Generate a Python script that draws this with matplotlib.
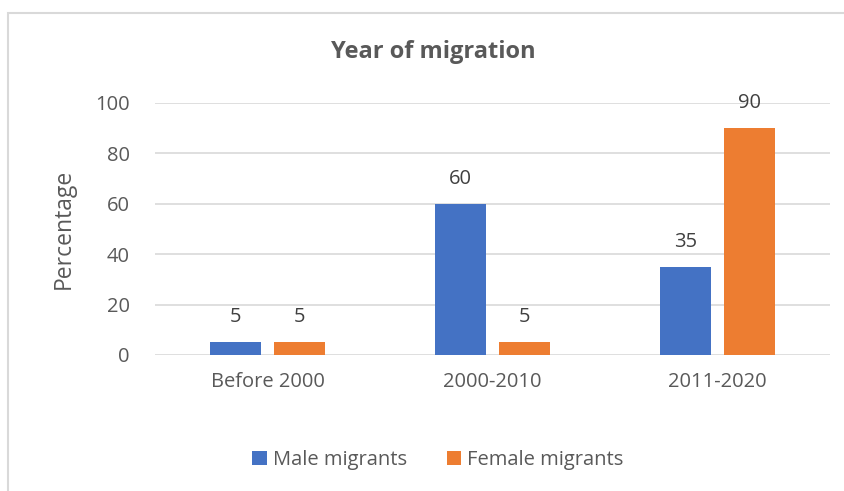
import matplotlib.pyplot as plt
import numpy as np
from matplotlib.patches import Rectangle

categories = ['Before 2000', '2000-2010', '2011-2020']
male = [5, 60, 35]
female = [5, 5, 90]
series_names = ['Male migrants', 'Female migrants']

plt.rcParams['font.family'] = ['Open Sans', 'DejaVu Sans']
grey = '#595959'

fig = plt.figure(figsize=(8.45, 4.91), dpi=100)
W, H = 845, 491
ax = fig.add_axes([155 / W, 1 - 355 / H, 675 / W, 252 / H])

x = np.arange(len(categories))
w = 0.227
off = 0.142
b1 = ax.bar(x - off, male, w, color='#4472c4', label=series_names[0], zorder=3)
b2 = ax.bar(x + off, female, w, color='#ed7d31', label=series_names[1], zorder=3)

for bars in (b1, b2):
    for r in bars:
        ax.text(r.get_x() + r.get_width() / 2, r.get_height() + 6, f'{r.get_height():g}',
                ha='center', va='bottom', fontsize=14.5, color='#404040')

ax.set_xlim(-0.5, 2.5)
ax.set_ylim(0, 100)
ax.set_yticks(range(0, 101, 20))
ax.set_xticks(x)
ax.set_xticklabels(categories)
ax.tick_params(axis='both', length=0, labelsize=14.5, colors=grey)
ax.tick_params(axis='y', pad=18)
ax.tick_params(axis='x', pad=12)
ax.grid(axis='y', color='#d9d9d9', linewidth=1.2, zorder=0)
for s in ax.spines.values():
    s.set_visible(False)
ax.set_ylabel('Percentage', fontsize=16.5, color=grey, labelpad=14)

fig.text(433 / W, 1 - 52 / H, 'Year of migration', ha='center', va='center',
         fontsize=17, fontweight='bold', color=grey)

fig.legend(handles=[b1, b2], loc='center', bbox_to_anchor=(438 / W, 1 - 460 / H),
           ncol=2, frameon=False, fontsize=14.5, labelcolor=grey, handlelength=0.7,
           handleheight=0.7, handletextpad=0.3, columnspacing=2.0)

fig.patches.append(Rectangle((8 / W, -0.1), 1.1, 1 - 13 / H + 0.1, transform=fig.transFigure,
                             fill=False, edgecolor='#d9d9d9', linewidth=1.5))

fig.savefig('out.png', dpi=100)
